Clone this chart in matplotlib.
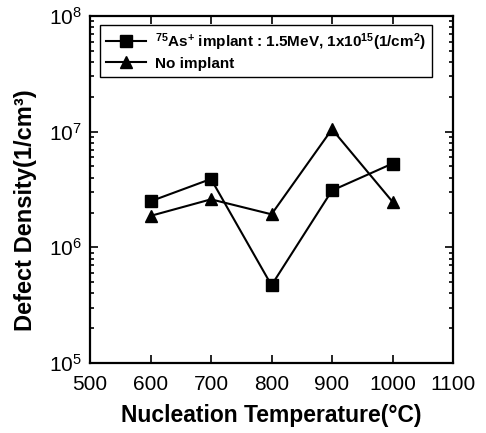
import matplotlib
matplotlib.use("Agg")
import matplotlib.pyplot as plt
from matplotlib.ticker import LogLocator, NullFormatter, MultipleLocator

plt.rcParams['font.family'] = ['Liberation Sans', 'DejaVu Sans']
plt.rcParams['mathtext.fontset'] = 'custom'
plt.rcParams['mathtext.rm'] = 'Liberation Sans:bold'
plt.rcParams['mathtext.default'] = 'rm'

# data
temps = [600, 700, 800, 900, 1000]
as_implant = [2.5e6, 3.9e6, 4.7e5, 3.1e6, 5.3e6]
no_implant = [1.87e6, 2.6e6, 1.93e6, 1.05e7, 2.48e6]

label_as = r"$^{75}$As$^{+}$ implant : 1.5MeV, 1x10$^{15}$(1/cm$^{2}$)"
label_no = "No implant"

fig = plt.figure(figsize=(4.86, 4.33), dpi=100)
ax = fig.add_axes([90/486, 1 - 363/433, 363/486, 347/433])

ax.plot(temps, as_implant, color='black', lw=1.5, marker='s', ms=8, label=label_as)
ax.plot(temps, no_implant, color='black', lw=1.5, marker='^', ms=9, label=label_no)

ax.set_yscale('log')
ax.set_xlim(500, 1100)
ax.set_ylim(1e5, 1e8)
ax.xaxis.set_major_locator(MultipleLocator(100))
ax.yaxis.set_major_locator(LogLocator(base=10, numticks=10))
ax.yaxis.set_minor_locator(LogLocator(base=10, subs=range(2, 10), numticks=10))
ax.yaxis.set_minor_formatter(NullFormatter())

ax.tick_params(which='both', direction='in', top=True, right=True, labelsize=15, width=1.2)
ax.tick_params(which='major', length=6)
ax.tick_params(which='minor', length=3)
ax.tick_params(axis='x', pad=9)
ax.tick_params(axis='y', pad=6)
for s in ax.spines.values():
    s.set_linewidth(1.6)

ax.set_xlabel("Nucleation Temperature(°C)", fontsize=16.5, fontweight='bold', labelpad=7)
ax.set_ylabel("Defect Density(1/cm³)", fontsize=17, fontweight='bold')
ax.yaxis.set_label_coords(-0.147, 0.44)

leg = ax.legend(loc='upper left', bbox_to_anchor=(0.028, 0.974), borderaxespad=0,
                fancybox=False, edgecolor='black', framealpha=1, handlelength=2.6,
                prop={'size': 11, 'weight': 'bold'}, labelspacing=0.25, handletextpad=0.6)
leg.get_frame().set_linewidth(1.0)

fig.savefig('out.png', dpi=100)
